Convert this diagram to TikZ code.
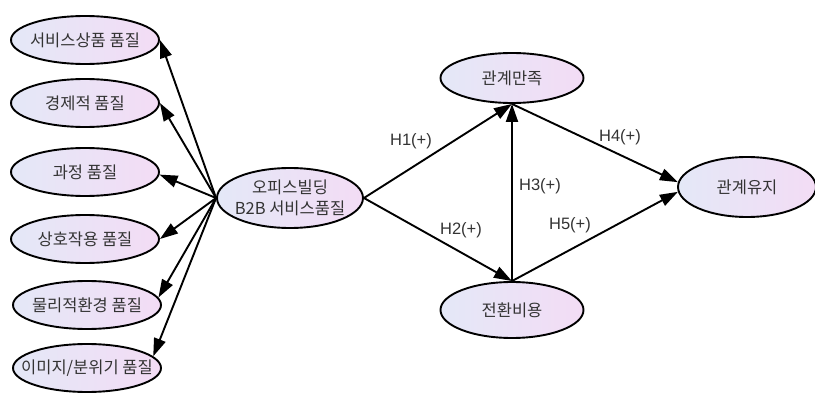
\documentclass[tikz,border=0pt]{standalone}
\usepackage{fontspec}
\setmainfont{Liberation Sans}
\newfontfamily\krfont{Noto Sans CJK KR}
\usetikzlibrary{shapes.geometric,arrows.meta}
\definecolor{fillL}{HTML}{E4E8F7}
\definecolor{fillR}{HTML}{F3DCF5}
\definecolor{txt}{HTML}{333333}
% zero-width line so the ellipse keeps its own size
\newcommand\zw[1]{\makebox[0pt]{#1}}
\tikzset{
  construct/.style={ellipse, draw=black, line width=1.9pt, inner sep=0pt,
    left color=fillL, right color=fillR, text=txt,
    font=\krfont\fontsize{16.5}{21}\selectfont, align=center},
  leftbox/.style={construct, minimum width=148pt, minimum height=48pt},
  link/.style={line width=1.9pt, -{Triangle[length=18pt,width=12pt]}},
  hyp/.style={font=\fontsize{16.5}{18}\selectfont, text=txt, inner sep=0pt}
}
\begin{document}
\begin{tikzpicture}[x=1pt,y=-1pt]
\useasboundingbox (0,0) rectangle (815,396);

% service quality dimensions
\node[leftbox] (d1) at (85,40)  {\zw{서비스상품 품질}};
\node[leftbox] (d2) at (85,103) {\zw{경제적 품질}};
\node[leftbox] (d3) at (85,172) {\zw{과정 품질}};
\node[leftbox] (d4) at (85,239) {\zw{상호작용 품질}};
\node[leftbox] (d5) at (87,305) {\zw{물리적환경 품질}};
\node[leftbox] (d6) at (87,368) {\zw{이미지/분위기 품질}};

% core constructs
\node[construct, minimum width=146pt, minimum height=60pt] (sq) at (290,198)
  {\zw{오피스빌딩}\\\zw{B2B 서비스품질}};
\node[construct, minimum width=143pt, minimum height=50pt] (sat) at (512,78) {\zw{관계만족}};
\node[construct, minimum width=143pt, minimum height=56pt] (cost) at (512,310) {\zw{전환비용}};
\node[construct, minimum width=138pt, minimum height=60pt] (keep) at (747,187) {\zw{관계유지}};

% measurement links
\draw[link] (sq.west) -- (d1.east);
\draw[link] (sq.west) -- (d2.east);
\draw[link] (sq.west) -- (d3.-2);
\draw[link] (sq.west) -- (d4.east);
\draw[link] (sq.west) -- (d5.6);
\draw[link] (sq.west) -- (d6.10);

% structural paths
\draw[link] (sq.east) -- (sat.south);
\draw[link] (sq.east) -- (cost.north);
\draw[link] (cost.north) -- (sat.south);
\draw[link] (sat.south) -- (keep.176);
\draw[link] (cost.north) -- (keep.184);

% hypothesis labels
\node[hyp] (h1) at (411,141) {H1(+)};
\node[hyp] (h2) at (461,230) {H2(+)};
\node[hyp] (h3) at (540,186) {H3(+)};
\node[hyp] (h4) at (620,137) {H4(+)};
\node[hyp] (h5) at (570,225) {H5(+)};
\end{tikzpicture}
\end{document}
